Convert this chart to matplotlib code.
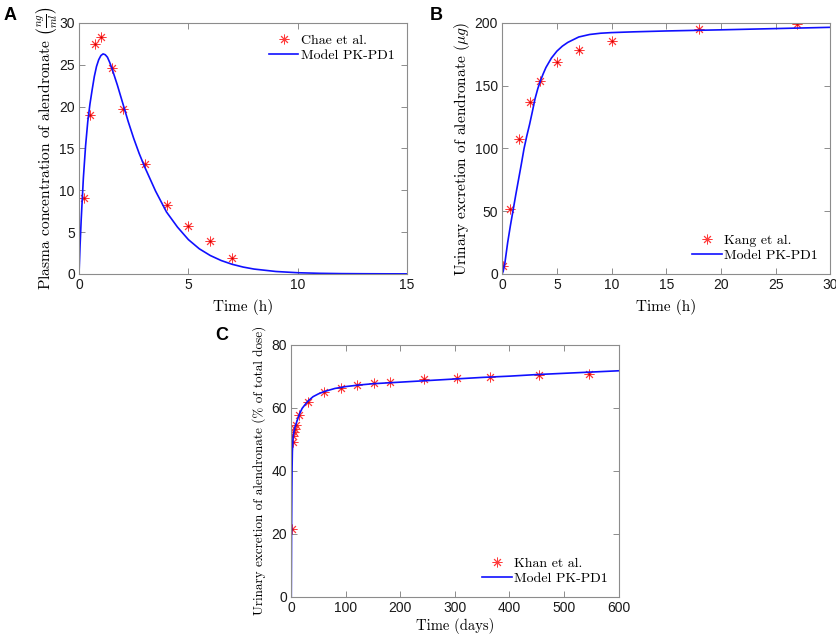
#import libraries
import matplotlib
matplotlib.use("Agg")
import matplotlib.pyplot as plt

plt.rcParams['mathtext.fontset'] = 'cm'
plt.rcParams['font.family'] = ['Liberation Sans', 'DejaVu Sans']

#panel A - plasma concentration (Chae et al.)
chae_t = [0.25, 0.5, 0.75, 1.0, 1.5, 2.0, 3.0, 4.0, 5.0, 6.0, 7.0]
chae_c = [9.1, 19.0, 27.5, 28.3, 24.6, 19.7, 13.1, 8.25, 5.7, 3.95, 1.95]
modelA_t = [0, 0.05, 0.1, 0.2, 0.3, 0.4, 0.5, 0.6, 0.7, 0.8, 0.9, 1.0, 1.1, 1.2, 1.3, 1.4,
            1.5, 1.75, 2.0, 2.25, 2.5, 2.75, 3.0, 3.5, 4.0, 4.5, 5.0, 5.5, 6.0, 6.5, 7.0,
            7.5, 8.0, 9.0, 10, 11, 12, 13, 14, 15]
modelA_c = [0, 3.5, 6.5, 11.5, 15.3, 18.2, 20.3, 22.0, 23.6, 24.8, 25.6, 26.1, 26.3, 26.2,
            25.9, 25.3, 24.6, 22.6, 20.4, 18.2, 16.2, 14.4, 12.8, 9.9, 7.4, 5.6, 4.1, 3.0,
            2.2, 1.6, 1.15, 0.82, 0.58, 0.29, 0.14, 0.07, 0.035, 0.02, 0.01, 0.005]

#panel B - urinary excretion (Kang et al.)
kang_t = [0.1, 0.67, 1.5, 2.5, 3.5, 5.0, 7.0, 10.0, 18.0, 27.0]
kang_u = [6.6, 51.5, 107.3, 137.0, 154.0, 168.8, 178.5, 185.3, 195.0, 199.2]
modelB_t = [0, 0.1, 0.25, 0.5, 0.75, 1.0, 1.25, 1.5, 1.75, 2.0, 2.25, 2.5, 2.75, 3.0, 3.25,
            3.5, 3.75, 4.0, 4.5, 5.0, 5.5, 6.0, 7.0, 8.0, 9.0, 10, 12, 15, 20, 25, 30]
modelB_u = [0, 2.5, 9, 25, 38.5, 51, 63.5, 75.5, 87.5, 100, 110, 119, 129, 139.5, 147.5,
            154, 159.5, 164.5, 172, 177.5, 181.5, 184.5, 188.8, 190.8, 191.8, 192.3, 192.9,
            193.6, 194.5, 195.5, 196.5]

#panel C - urinary excretion (Khan et al.)
khan_t = [1, 3, 4, 5, 7, 9, 14, 30, 60, 91, 121, 151, 181, 243, 303, 364, 455, 546]
khan_u = [21.4, 49.2, 50.9, 52.2, 53.2, 54.4, 57.7, 61.7, 64.9, 66.3, 67.3, 67.9, 68.3,
          69.0, 69.4, 69.8, 70.5, 70.8]
modelC_t = [0, 0.25, 0.5, 1, 1.5, 2, 3, 4, 5, 7, 10, 15, 20, 30, 40, 50, 60, 80, 100, 125,
            150, 200, 250, 300, 350, 400, 450, 500, 550, 600]
modelC_u = [0, 10, 20, 33, 41, 46, 50, 51.5, 52.5, 54, 55.5, 58, 59.8, 62, 63.5, 64.4, 65.1,
            66.1, 66.7, 67.2, 67.6, 68.1, 68.6, 69.1, 69.6, 70.0, 70.5, 70.9, 71.3, 71.7]

serif = 'cmr10'
star = (8, 2, 0)
box_grey = '#8c8c8c'

fig = plt.figure(figsize=(8.37, 6.37), dpi=100)

#helper for MATLAB-like axes
def style_axes(ax, xlim, ylim, xticks, yticks):
    ax.set_xlim(xlim)
    ax.set_ylim(ylim)
    ax.set_xticks(xticks)
    ax.set_yticks(yticks)
    for s in ax.spines.values():
        s.set_color(box_grey)
        s.set_linewidth(0.8)
    ax.tick_params(direction='in', top=True, right=True, length=4, width=0.7,
                   color=box_grey, labelsize=10, labelcolor='#1a1a1a', pad=3)

def draw_panel(rect, dt, dy, mt, my, name, loc, anchor):
    ax = fig.add_axes(rect)
    ax.plot(dt, dy, linestyle='none', marker=star, markersize=7, markeredgewidth=0.65,
            color='#ff3b3b', label=name)
    ax.plot(dt, dy, linestyle='none', marker='o', markersize=1.6, markeredgewidth=0,
            color='#d00000')
    ax.plot(mt, my, color='#1010ff', linewidth=1.2, label='Model PK-PD1')
    ax.legend(loc=loc, bbox_to_anchor=anchor, frameon=False, handlelength=2.1,
              handletextpad=0.2, labelspacing=0.2, borderaxespad=0,
              prop={'family': serif, 'size': 10})
    return ax

axA = draw_panel([0.0944, 0.570, 0.392, 0.394], chae_t, chae_c, modelA_t, modelA_c,
                 'Chae et al.', 'upper right', (0.98, 0.978))
style_axes(axA, (0, 15), (0, 30), [0, 5, 10, 15], [0, 5, 10, 15, 20, 25, 30])
axA.set_xlabel('Time (h)', family=serif, fontsize=11, labelpad=5)
axA.set_ylabel(r'Plasma concentration of alendronate $\left(\frac{ng}{ml}\right)$',
               family=serif, fontsize=11.2, labelpad=0)

axB = draw_panel([0.600, 0.570, 0.392, 0.394], kang_t, kang_u, modelB_t, modelB_u,
                 'Kang et al.', 'lower right', (0.98, 0.025))
style_axes(axB, (0, 30), (0, 200), [0, 5, 10, 15, 20, 25, 30], [0, 50, 100, 150, 200])
axB.set_xlabel('Time (h)', family=serif, fontsize=11, labelpad=5)
axB.set_ylabel(r'Urinary excretion of alendronate $(\mu g)$',
               family=serif, fontsize=11.1, labelpad=2)

axC = draw_panel([0.348, 0.063, 0.391, 0.396], khan_t, khan_u, modelC_t, modelC_u,
                 'Khan et al.', 'lower right', (0.985, 0.025))
style_axes(axC, (0, 600), (0, 80), [0, 100, 200, 300, 400, 500, 600], [0, 20, 40, 60, 80])
axC.set_xlabel('Time (days)', family=serif, fontsize=10.5, labelpad=2)
axC.set_ylabel('Urinary excretion of alendronate (% of total dose)',
               family=serif, fontsize=9.5, labelpad=4)

#panel letters
fig.text(0.004, 0.975, 'A', fontsize=13, fontweight='bold', va='center')
fig.text(0.514, 0.975, 'B', fontsize=13, fontweight='bold', va='center')
fig.text(0.257, 0.474, 'C', fontsize=13, fontweight='bold', va='center')

fig.savefig('out.png', dpi=100)
